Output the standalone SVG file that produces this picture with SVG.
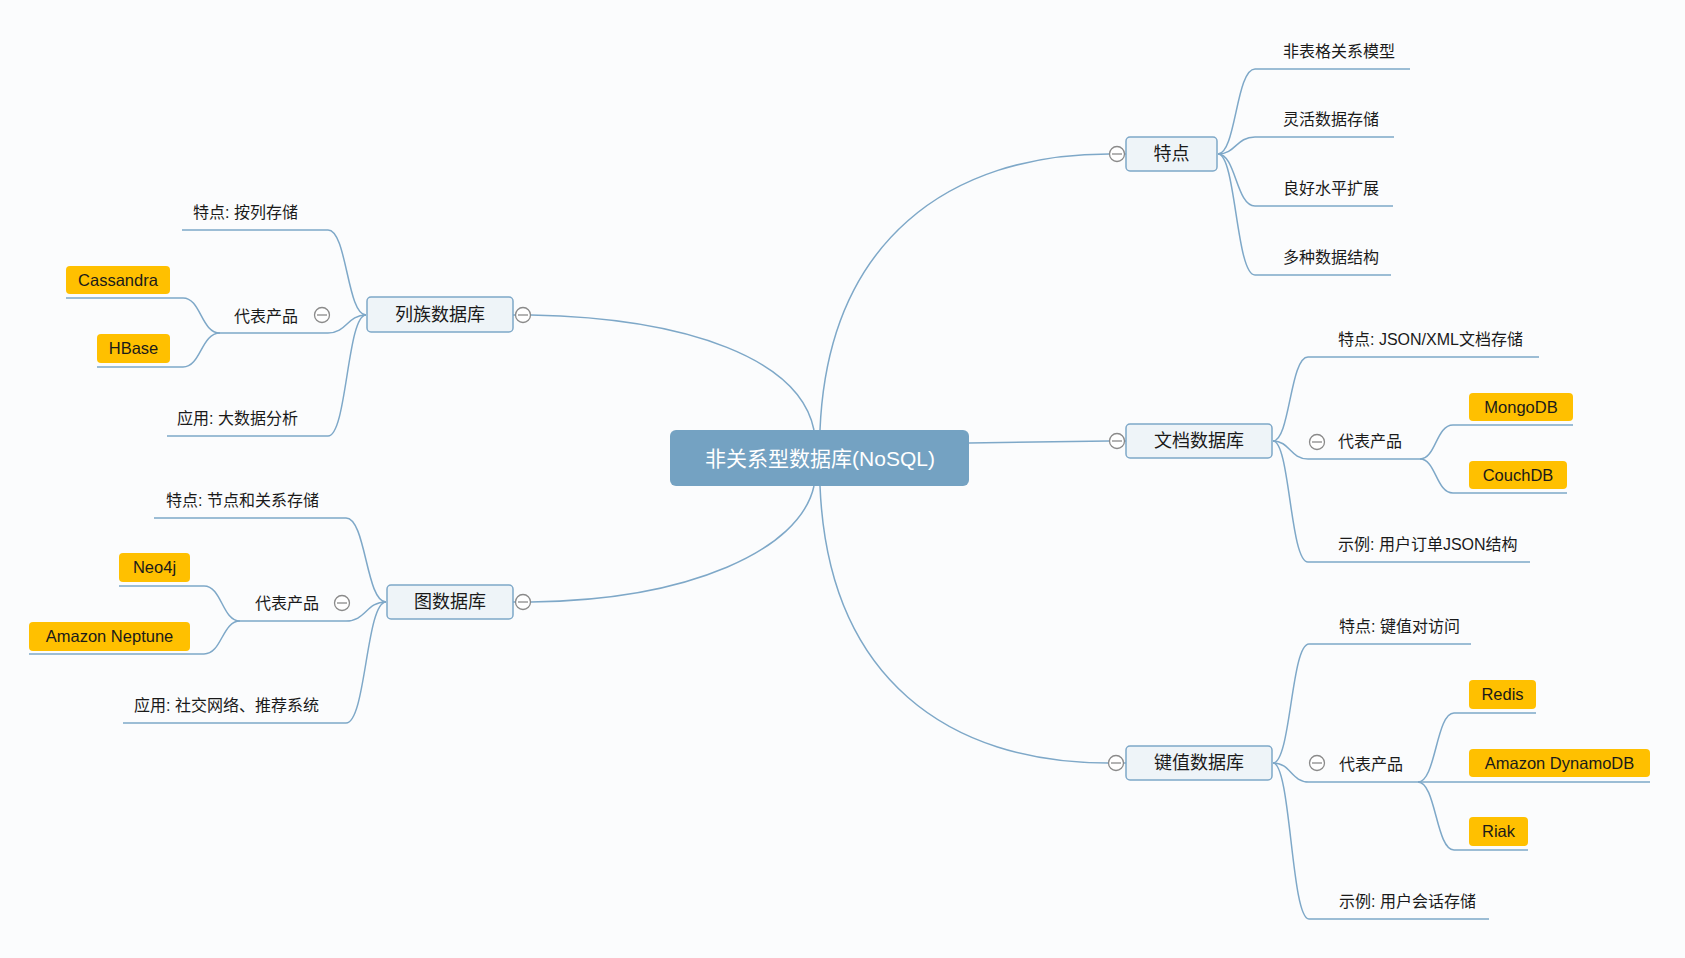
<svg xmlns="http://www.w3.org/2000/svg" width="1685" height="958" viewBox="0 0 1685 958">
<style>
.bg{fill:#fbfcfd}
.ln{fill:none;stroke:#7ea8c8;stroke-width:1.5}
.node{fill:#eef4f8;stroke:#7ea8c8;stroke-width:1.5}
.root{fill:#74a2c2}
.prod{fill:#ffc000}
.t{font-family:"Liberation Sans","Noto Sans CJK SC",sans-serif;fill:#1a1a1a}
.s16{font-size:16px}
.s18{font-size:18px}
.p{font-size:16.5px;text-anchor:middle}
.mid{text-anchor:middle}
.end{text-anchor:end}
.col{fill:#fff;stroke:#8a8a8a;stroke-width:1.3}
.colm{stroke:#8a8a8a;stroke-width:1.3}
</style>
<defs>
<g id="collapse"><circle class="col" r="7.5"/><line class="colm" x1="-5" y1="0" x2="5" y2="0"/></g>
</defs>
<rect class="bg" x="0" y="0" width="1685" height="958"/>

<g id="connectors">
<path class="ln" d="M820 430 C828 240 950 154 1109 154"/>
<path class="ln" d="M969 443 L1109 441"/>
<path class="ln" d="M820 486 C828 680 950 763 1108 763"/>
<path class="ln" d="M531 315 C690 318 800 360 814 430"/>
<path class="ln" d="M531 602 C690 600 800 550 814 486"/>
<path class="ln" d="M1124 154 H1126"/>
<path class="ln" d="M1124 441 H1126"/>
<path class="ln" d="M1123 763 H1126"/>
<path class="ln" d="M513 315 H516"/>
<path class="ln" d="M513 602 H516"/>
<!-- 特点 children -->
<path class="ln" d="M1218 154 C1236 154 1236 69 1255 69 H1410"/>
<path class="ln" d="M1218 154 C1236 154 1236 137 1255 137 H1394"/>
<path class="ln" d="M1218 154 C1236 154 1236 206 1255 206 H1393"/>
<path class="ln" d="M1218 154 C1236 154 1236 275 1255 275 H1391"/>
<!-- 文档 children -->
<path class="ln" d="M1273 441 C1290 441 1290 357 1308 357 H1539"/>
<path class="ln" d="M1273 441 C1290 441 1290 459 1308 459 H1420"/>
<path class="ln" d="M1273 441 C1290 441 1290 562 1308 562 H1530"/>
<path class="ln" d="M1420 459 C1436 459 1436 425 1453 425 H1573"/>
<path class="ln" d="M1420 459 C1436 459 1436 493 1453 493 H1567"/>
<!-- 键值 children -->
<path class="ln" d="M1273 763 C1291 763 1291 644 1309 644 H1471"/>
<path class="ln" d="M1273 763 C1291 763 1291 782 1309 782 H1650"/>
<path class="ln" d="M1273 763 C1291 763 1291 919 1309 919 H1489"/>
<path class="ln" d="M1418 782 C1436 782 1436 713 1454 713 H1536"/>
<path class="ln" d="M1418 782 C1436 782 1436 850 1454 850 H1528"/>
<!-- 列族 children -->
<path class="ln" d="M366 315 C347 315 347 230 328 230 H182"/>
<path class="ln" d="M366 315 C347 315 347 333 328 333 H220"/>
<path class="ln" d="M366 315 C347 315 347 436 328 436 H167"/>
<path class="ln" d="M220 333 C201 333 201 298 183 298 H66"/>
<path class="ln" d="M220 333 C201 333 201 367 183 367 H97"/>
<!-- 图 children -->
<path class="ln" d="M386 602 C366 602 366 518 346 518 H154"/>
<path class="ln" d="M386 602 C366 602 366 621 346 621 H240"/>
<path class="ln" d="M386 602 C366 602 366 723 346 723 H123"/>
<path class="ln" d="M240 621 C222 621 222 586 204 586 H119"/>
<path class="ln" d="M240 621 C222 621 222 654 204 654 H29"/>
</g>

<g id="root">
<rect class="root" x="670" y="430" width="299" height="56" rx="6"/>
<text class="t mid" x="820" y="466" style="font-size:21px;fill:#fff">非关系型数据库(NoSQL)</text>
</g>

<g id="n-tedian">
<rect class="node" x="1126" y="137" width="91" height="34" rx="4"/>
<text class="t s18 mid" x="1171.5" y="160">特点</text>
<use href="#collapse" x="1117" y="154"/>
</g>
<g id="n-tedian-1"><text class="t s16" x="1283" y="57">非表格关系模型</text></g>
<g id="n-tedian-2"><text class="t s16" x="1283" y="125">灵活数据存储</text></g>
<g id="n-tedian-3"><text class="t s16" x="1283" y="194">良好水平扩展</text></g>
<g id="n-tedian-4"><text class="t s16" x="1283" y="263">多种数据结构</text></g>

<g id="n-doc">
<rect class="node" x="1126" y="424" width="146" height="34" rx="4"/>
<text class="t s18 mid" x="1199" y="447">文档数据库</text>
<use href="#collapse" x="1117" y="441"/>
</g>
<g id="n-doc-1"><text class="t s16" x="1338" y="345">特点: JSON/XML文档存储</text></g>
<g id="n-doc-2"><text class="t s16" x="1338" y="447">代表产品</text><use href="#collapse" x="1317" y="442"/></g>
<g id="n-mongo"><rect class="prod" x="1469" y="393" width="104" height="28" rx="4"/><text class="t p" x="1521" y="413">MongoDB</text></g>
<g id="n-couch"><rect class="prod" x="1469" y="461" width="98" height="28" rx="4"/><text class="t p" x="1518" y="481">CouchDB</text></g>
<g id="n-doc-3"><text class="t s16" x="1338" y="550">示例: 用户订单JSON结构</text></g>

<g id="n-kv">
<rect class="node" x="1126" y="746" width="146" height="34" rx="4"/>
<text class="t s18 mid" x="1199" y="769">键值数据库</text>
<use href="#collapse" x="1116" y="763"/>
</g>
<g id="n-kv-1"><text class="t s16" x="1339" y="632">特点: 键值对访问</text></g>
<g id="n-kv-2"><text class="t s16" x="1339" y="770">代表产品</text><use href="#collapse" x="1317" y="763"/></g>
<g id="n-redis"><rect class="prod" x="1469" y="680" width="67" height="29" rx="4"/><text class="t p" x="1502.5" y="700">Redis</text></g>
<g id="n-dynamo"><rect class="prod" x="1469" y="749" width="181" height="28" rx="4"/><text class="t p" x="1559.5" y="769">Amazon DynamoDB</text></g>
<g id="n-riak"><rect class="prod" x="1469" y="817" width="59" height="29" rx="4"/><text class="t p" x="1498.5" y="837">Riak</text></g>
<g id="n-kv-3"><text class="t s16" x="1339" y="907">示例: 用户会话存储</text></g>

<g id="n-col">
<rect class="node" x="367" y="297" width="146" height="35" rx="4"/>
<text class="t s18 mid" x="440" y="321">列族数据库</text>
<use href="#collapse" x="523" y="315"/>
</g>
<g id="n-col-1"><text class="t s16 end" x="298" y="218">特点: 按列存储</text></g>
<g id="n-col-2"><text class="t s16 end" x="298" y="322">代表产品</text><use href="#collapse" x="322" y="315"/></g>
<g id="n-cass"><rect class="prod" x="66" y="266" width="104" height="28" rx="4"/><text class="t p" x="118" y="286">Cassandra</text></g>
<g id="n-hbase"><rect class="prod" x="97" y="334" width="73" height="29" rx="4"/><text class="t p" x="133.5" y="354">HBase</text></g>
<g id="n-col-3"><text class="t s16 end" x="298" y="424">应用: 大数据分析</text></g>

<g id="n-graph">
<rect class="node" x="387" y="585" width="126" height="34" rx="4"/>
<text class="t s18 mid" x="450" y="608">图数据库</text>
<use href="#collapse" x="523" y="602"/>
</g>
<g id="n-graph-1"><text class="t s16 end" x="319" y="506">特点: 节点和关系存储</text></g>
<g id="n-graph-2"><text class="t s16 end" x="319" y="609">代表产品</text><use href="#collapse" x="342" y="603"/></g>
<g id="n-neo"><rect class="prod" x="119" y="553" width="71" height="29" rx="4"/><text class="t p" x="154.5" y="573">Neo4j</text></g>
<g id="n-neptune"><rect class="prod" x="29" y="622" width="161" height="29" rx="4"/><text class="t p" x="109.5" y="642">Amazon Neptune</text></g>
<g id="n-graph-3"><text class="t s16 end" x="319" y="711">应用: 社交网络、推荐系统</text></g>
</svg>
